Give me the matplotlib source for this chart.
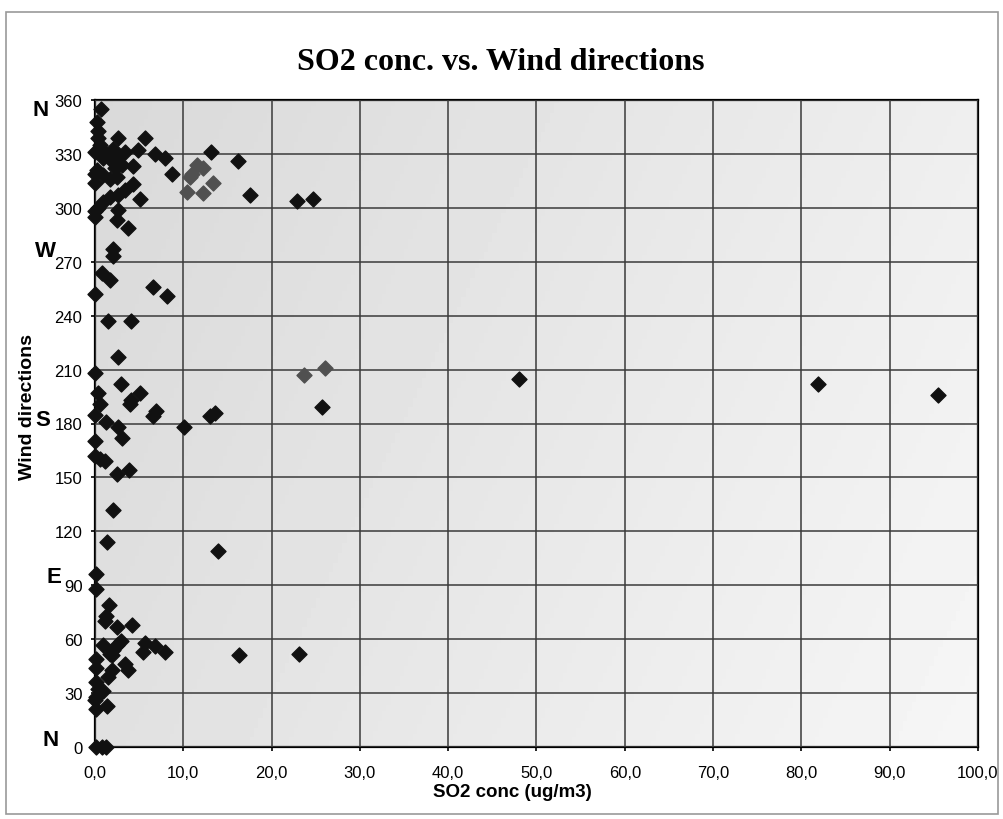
import numpy as np
import matplotlib
matplotlib.use("Agg")
import matplotlib.pyplot as plt
from matplotlib.patches import Rectangle
from matplotlib.ticker import FuncFormatter

# concentracion SO2 (ug/m3) y direccion del viento (grados)
so2_negro = [0.7, 0.2, 0.3, 0.3, 2.6, 5.7, 0.0, 0.3, 0.9, 2.0, 2.6, 3.4, 4.9, 6.8, 7.9,
             1.9, 3.1, 4.3, 8.7, 0.0, 0.2, 0.9, 1.7, 0.0, 2.5, 4.3, 3.4, 2.6, 1.7, 0.9,
             5.1, 0.3, 0.0, 0.0, 2.6, 2.5, 3.7, 0.6, 1.3, 2.3,
             13.1, 16.2, 17.6, 22.9, 24.7,
             2.0, 2.0, 0.8, 1.7, 0.0, 6.6, 8.2, 1.5, 4.1, 2.6, 0.0, 2.9, 5.1, 0.3, 0.6,
             4.0, 4.1, 6.9, 6.6, 0.0, 1.2, 2.6, 3.1, 10.1, 13.0, 13.6, 0.0, 0.0, 0.6, 1.1,
             2.5, 3.9, 25.7, 48.0, 81.9, 95.5,
             2.0, 1.4, 13.9, 0.1, 0.1, 1.6, 1.2, 1.1, 2.5, 4.2, 0.9, 2.9, 2.5, 2.0, 1.7,
             1.9, 5.7, 5.4, 6.8, 7.9, 16.3, 23.1, 0.1, 0.1, 1.9, 1.5, 3.4, 3.7, 0.1, 0.3,
             0.9, 0.1, 0.0, 0.1, 1.4, 0.1, 0.8, 1.2]
dir_negro = [355, 348, 343, 339, 339, 339, 331, 332, 328, 333, 328, 331, 332, 330, 328,
             326, 324, 323, 319, 319, 321, 318, 316, 314, 317, 313, 310, 307, 306, 303,
             305, 300, 298, 295, 299, 293, 289, 335, 330, 322,
             331, 326, 307, 304, 305,
             277, 273, 264, 260, 252, 256, 251, 237, 237, 217, 208, 202, 197, 197, 191,
             191, 193, 187, 184, 185, 181, 178, 172, 178, 184, 186, 170, 162, 160, 159,
             152, 154, 189, 205, 202, 196,
             132, 114, 109, 96, 88, 79, 73, 70, 67, 68, 57, 59, 57, 54, 52,
             51, 58, 53, 56, 53, 51, 52, 49, 44, 43, 39, 46, 43, 36, 32,
             31, 28, 26, 21, 23, 0, 0, 0]

so2_gris = [11.6, 12.2, 11.0, 10.8, 13.4, 10.4, 12.2, 23.7, 26.1]
dir_gris = [324, 322, 319, 317, 314, 309, 308, 207, 211]

x_ticks = np.arange(0, 101, 10)
y_ticks = np.arange(0, 361, 30)
puntos_cardinales = [("N", 360), ("W", 270), ("S", 180), ("E", 90), ("N", 0)]

fig = plt.figure(figsize=(10.04, 8.2), dpi=100)
ax = fig.add_axes([95 / 1004, 1 - 748 / 820, (978 - 95) / 1004, (748 - 101) / 820])

# fondo gris con degradado (mas oscuro arriba a la izquierda)
gx, gy = np.meshgrid(np.linspace(0, 1, 200), np.linspace(0, 1, 200))
fondo = 0.85 + 0.085 * gx + 0.03 * gy
ax.imshow(fondo, cmap="gray", vmin=0, vmax=1, extent=[0, 100, 0, 360],
          aspect="auto", origin="upper", zorder=0)

ax.set_xlim(0, 100)
ax.set_ylim(0, 360)
ax.set_xticks(x_ticks)
ax.set_yticks(y_ticks)
ax.xaxis.set_major_formatter(FuncFormatter(lambda v, p: f"{v:.1f}".replace(".", ",")))
ax.grid(True, color="#3a3a3a", linewidth=1.1, zorder=1)
ax.set_axisbelow(False)
for s in ax.spines.values():
    s.set_linewidth(1.6)
ax.tick_params(axis="both", labelsize=12, length=3, width=1.2, direction="out")
ax.tick_params(axis="x", pad=10)
ax.tick_params(axis="y", pad=6)
for lab in ax.get_xticklabels() + ax.get_yticklabels():
    lab.set_family("Liberation Sans")

ax.scatter(so2_negro, dir_negro, marker="D", s=58, color="#111111", zorder=4, clip_on=False)
ax.scatter(so2_gris, dir_gris, marker="D", s=58, color="#505050", zorder=4, clip_on=False)

fig.text(501 / 1004, 1 - 62 / 820, "SO2 conc. vs. Wind directions", ha="center", va="center",
         fontsize=23, fontweight="bold", family="Liberation Serif")
fig.text(512 / 1004, 1 - 793 / 820, "SO2 conc (ug/m3)", ha="center", va="center",
         fontsize=13.5, fontweight="bold", family="Liberation Sans")
fig.text(28 / 1004, 1 - 407 / 820, "Wind directions", ha="center", va="center", rotation=90,
         fontsize=14, fontweight="bold", family="Liberation Sans")

pos_x = {360: 41, 270: 45, 180: 43, 90: 54, 0: 51}
pos_dy = {360: 9, 270: -11, 180: -4, 90: -9, 0: -7}
for letra, grados in puntos_cardinales:
    ypix = 748 - grados * 647 / 360 + pos_dy[grados]
    fig.text(pos_x[grados] / 1004, 1 - ypix / 820, letra, ha="center", va="center",
             fontsize=16, fontweight="bold", family="Liberation Sans", zorder=5)

fig.patches.append(Rectangle((6 / 1004, 1 - 815 / 820), 992 / 1004, 802 / 820,
                             transform=fig.transFigure, fill=False, edgecolor="#999999",
                             linewidth=1.2))

fig.savefig("out.png", dpi=100)
